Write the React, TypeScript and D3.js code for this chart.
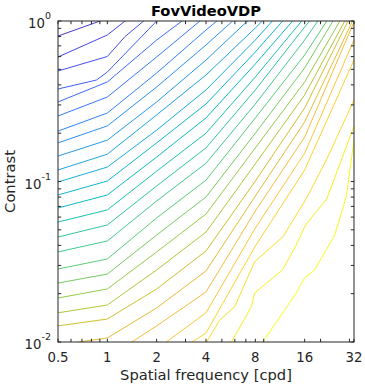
import React from 'react';
import * as d3 from 'd3';

// Each contour line: [spatial frequency (cpd), contrast] pairs
// (points just outside the axes show where a line enters/leaves the plot)
const level01 = [[0.5, 0.806], [1, 1.038]];
const level02 = [[0.5, 0.597], [1, 0.818], [2, 1.431]];
const level03 = [[0.5, 0.488], [1, 0.601], [1.28, 0.798], [2, 1.171]];
const level04 = [[0.5, 0.377], [0.86, 0.429], [1, 0.481], [2, 1.0], [4, 1.8]];
const level05 = [[0.5, 0.313], [1, 0.417], [2, 0.761], [4, 1.295]];
const level06 = [[0.5, 0.256], [1, 0.336], [2, 0.597], [4, 1.075]];
const level07 = [[0.5, 0.206], [1, 0.267], [2, 0.474], [4, 0.879], [8, 1.58]];
const level08 = [[0.5, 0.174], [1, 0.222], [2, 0.388], [4, 0.709], [8, 1.34]];
const level09 = [[0.5, 0.144], [1, 0.181], [2, 0.313], [4, 0.571], [8, 1.112]];
const level10 = [[0.5, 0.118], [1, 0.148], [2, 0.26], [4, 0.461], [8, 0.905], [16, 1.83]];
const level11 = [[0.5, 0.0993], [1, 0.123], [2, 0.209], [4, 0.372], [8, 0.761], [16, 1.68]];
const level12 = [[0.5, 0.0824], [1, 0.1007], [2, 0.174], [4, 0.304], [8, 0.641], [16, 1.431]];
const level13 = [[0.5, 0.0684], [1, 0.0824], [2, 0.142], [4, 0.249], [8, 0.54], [16, 1.222]];
const level14 = [[0.5, 0.0559], [1, 0.0665], [2, 0.116], [4, 0.2], [8, 0.448], [16, 1.053]];
const level15 = [[0.5, 0.0451], [1, 0.0536], [2, 0.0938], [4, 0.162], [8, 0.372], [16, 0.918], [32, 2.14]];
const level16 = [[0.5, 0.0364], [1, 0.0426], [2, 0.0756], [4, 0.13], [8, 0.304], [16, 0.761], [32, 2.13]];
const level17 = [[0.5, 0.0285], [1, 0.0329], [2, 0.0593], [4, 0.102], [8, 0.249], [16, 0.614], [32, 1.82]];
const level18 = [[0.5, 0.0233], [1, 0.0265], [2, 0.0464], [4, 0.0801], [8, 0.2], [16, 0.51], [32, 1.65]];
const level19 = [[0.5, 0.0188], [1, 0.0214], [2, 0.0364], [4, 0.0627], [8, 0.162], [16, 0.417], [32, 1.42]];
const level20 = [[0.5, 0.0152], [1, 0.017], [2, 0.0281], [4, 0.0484], [8, 0.129], [16, 0.346], [32, 1.276]];
const level21 = [[0.5, 0.0126], [1, 0.0139], [2, 0.0214], [4, 0.0369], [8, 0.1007], [16, 0.287], [32, 1.188]];
const level22 = [[0.5, 0.00958], [1, 0.0106], [2, 0.0163], [4, 0.0277], [8, 0.0812], [16, 0.235], [32, 1.044]];
const level23 = [[1, 0.00795], [2, 0.0126], [4, 0.0205], [8, 0.0655], [16, 0.189], [32, 0.986]];
const level24 = [[2, 0.00904], [4, 0.0152], [8, 0.0513], [16, 0.15], [32, 0.761]];
const level25 = [[2, 0.00709], [4, 0.0114], [8, 0.0396], [16, 0.118], [32, 0.571]];
const level26 = [
  [2.83, 0.0056], [4.03, 0.01], [4.85, 0.0137], [5.99, 0.0166], [7.93, 0.0317],
  [11.8, 0.0453], [16.4, 0.0786], [21.7, 0.136], [32, 0.322],
];
const level27 = [
  [4, 0.0055], [5.72, 0.01], [7.57, 0.0166], [7.93, 0.0202], [11.7, 0.0281],
  [14.2, 0.0402], [16.2, 0.0536], [21.8, 0.0778], [26.8, 0.136], [32, 0.222],
];
const level28 = [
  [8, 0.0087], [8.88, 0.01], [11.76, 0.0152], [14.2, 0.0202], [16, 0.0251],
  [18.4, 0.0281], [24.4, 0.0464], [28.7, 0.0804], [32, 0.181],
];

const LEVELS = [
  level01, level02, level03, level04, level05, level06, level07,
  level08, level09, level10, level11, level12, level13, level14,
  level15, level16, level17, level18, level19, level20, level21,
  level22, level23, level24, level25, level26, level27, level28,
];

const X_TICKS = [0.5, 1, 2, 4, 8, 16, 32];
const X_TICK_LABELS = ['0.5', '1', '2', '4', '8', '16', '32'];
const X_MINOR = [0.6, 0.7, 0.8, 0.9, 3, 5, 6, 7, 9, 20, 30];
const Y_TICKS = [0.01, 0.1, 1];
const Y_EXPONENTS = ['-2', '-1', '0'];
const Y_MINOR = [0.02, 0.03, 0.04, 0.05, 0.06, 0.07, 0.08, 0.09, 0.2, 0.3, 0.4, 0.5, 0.6, 0.7, 0.8, 0.9];

const TITLE = 'FovVideoVDP';
const X_LABEL = 'Spatial frequency [cpd]';
const Y_LABEL = 'Contrast';

// parula colormap anchors
const PARULA: [number, number, number, number][] = [
  [0.0, 0.2422, 0.1504, 0.6603],
  [0.111, 0.2803, 0.2782, 0.9221],
  [0.238, 0.2206, 0.4603, 0.9973],
  [0.333, 0.154, 0.5902, 0.9218],
  [0.429, 0.0689, 0.6948, 0.8394],
  [0.492, 0.0433, 0.7411, 0.7394],
  [0.556, 0.1938, 0.7758, 0.6251],
  [0.619, 0.3406, 0.8008, 0.4789],
  [0.683, 0.5616, 0.7942, 0.3045],
  [0.746, 0.7738, 0.7598, 0.1646],
  [0.81, 0.9393, 0.7288, 0.21],
  [0.841, 0.9956, 0.7434, 0.2371],
  [0.905, 0.9786, 0.8386, 0.1766],
  [1.0, 0.9769, 0.9839, 0.0805],
];

const parula = d3
  .scaleLinear<string>()
  .domain(PARULA.map((p) => p[0]))
  .range(PARULA.map((p) => d3.rgb(p[1] * 255, p[2] * 255, p[3] * 255).toString()))
  .interpolate(d3.interpolateRgb)
  .clamp(true);

const W = 365;
const H = 387;
const PLOT = { left: 58, right: 354, top: 21, bottom: 342 };
const AXIS_COLOR = '#262626';
const FONT = "'DejaVu Sans', sans-serif";
const TICK_LEN = 3.2;

export default function App() {
  const x = d3.scaleLog().base(2).domain([0.5, 32]).range([PLOT.left, PLOT.right]);
  const y = d3.scaleLog().base(10).domain([0.01, 1]).range([PLOT.bottom, PLOT.top]);

  const lineGen = d3
    .line<number[]>()
    .x((d) => x(d[0]))
    .y((d) => y(d[1]));

  const n = LEVELS.length;
  const paths = LEVELS.map((lv, i) => ({
    d: lineGen(lv) || '',
    color: parula(0.07 + (0.93 * i) / (n - 1)),
  }));

  const xAll = [...X_TICKS, ...X_MINOR];
  const yAll = [...Y_TICKS, ...Y_MINOR];

  return (
    <svg
      width={W}
      height={H}
      style={{ position: 'absolute', left: 0, top: 0, background: '#fff' }}
      fontFamily={FONT}
    >
      <rect x={0} y={0} width={W} height={H} fill="#fff" />
      <defs>
        <clipPath id="plotclip">
          <rect x={PLOT.left} y={PLOT.top} width={PLOT.right - PLOT.left} height={PLOT.bottom - PLOT.top} />
        </clipPath>
      </defs>
      <g clipPath="url(#plotclip)">
        {paths.map((p, i) => (
          <path key={i} d={p.d} fill="none" stroke={p.color} strokeWidth={1} strokeLinejoin="round" />
        ))}
      </g>
      {/* ticks */}
      <g stroke={AXIS_COLOR} strokeWidth={1}>
        {xAll.map((t, i) => (
          <g key={'xt' + i}>
            <line x1={x(t)} x2={x(t)} y1={PLOT.bottom} y2={PLOT.bottom - TICK_LEN} />
            <line x1={x(t)} x2={x(t)} y1={PLOT.top} y2={PLOT.top + TICK_LEN} />
          </g>
        ))}
        {yAll.map((t, i) => (
          <g key={'yt' + i}>
            <line x1={PLOT.left} x2={PLOT.left + TICK_LEN} y1={y(t)} y2={y(t)} />
            <line x1={PLOT.right} x2={PLOT.right - TICK_LEN} y1={y(t)} y2={y(t)} />
          </g>
        ))}
      </g>
      <rect
        x={PLOT.left}
        y={PLOT.top}
        width={PLOT.right - PLOT.left}
        height={PLOT.bottom - PLOT.top}
        fill="none"
        stroke={AXIS_COLOR}
        strokeWidth={1}
      />
      {/* x tick labels */}
      {X_TICKS.map((t, i) => (
        <text key={'xl' + i} x={x(t)} y={361.5} textAnchor="middle" fontSize={13.3} fill={AXIS_COLOR}>
          {X_TICK_LABELS[i]}
        </text>
      ))}
      {/* y tick labels */}
      {Y_TICKS.map((t, i) => (
        <text key={'yl' + i} x={PLOT.left - 7} y={y(t) + 7} textAnchor="end" fontSize={13.3} fill={AXIS_COLOR}>
          10
          <tspan dy={-9} fontSize={9.5}>
            {Y_EXPONENTS[i]}
          </tspan>
        </text>
      ))}
      <text x={(PLOT.left + PLOT.right) / 2} y={379.5} textAnchor="middle" fontSize={14.7} fill={AXIS_COLOR}>
        {X_LABEL}
      </text>
      <text
        transform={`translate(15,${(PLOT.top + PLOT.bottom) / 2}) rotate(-90)`}
        textAnchor="middle"
        fontSize={14.7}
        fill={AXIS_COLOR}
      >
        {Y_LABEL}
      </text>
      <text x={(PLOT.left + PLOT.right) / 2} y={15.5} textAnchor="middle" fontSize={14.7} fontWeight="bold" fill="#000">
        {TITLE}
      </text>
    </svg>
  );
}
